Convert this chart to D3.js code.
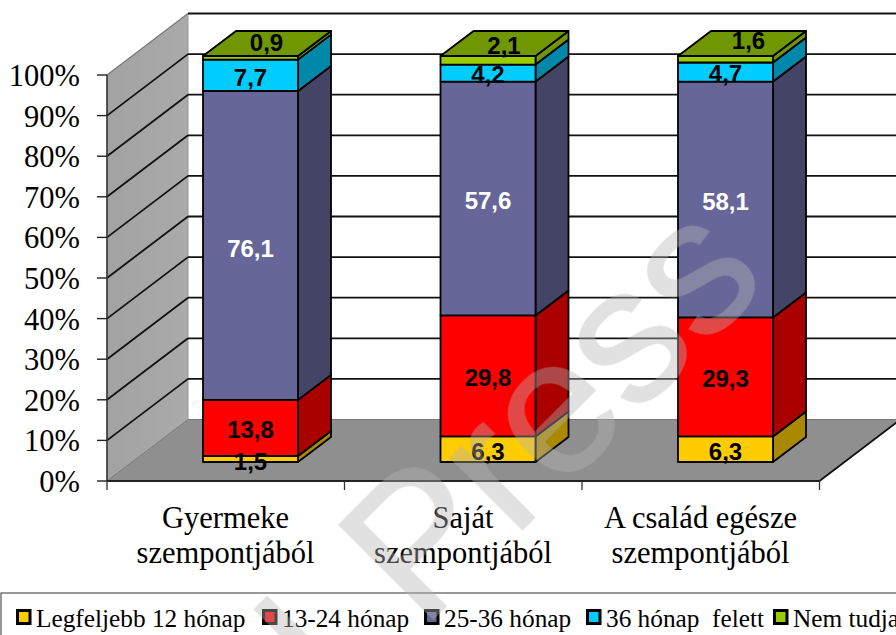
<!DOCTYPE html>
<html><head><meta charset="utf-8">
<script src="https://cdn.jsdelivr.net/npm/d3@7"></script>
<style>html,body{margin:0;padding:0;background:#fff;overflow:hidden}svg{display:block}</style>
</head><body><svg id="c" width="896" height="635"></svg>
<script>
const categories=[["Gyermeke","szempontjából"],["Saját","szempontjából"],["A család egésze","szempontjából"]];
const seriesNames=["Legfeljebb 12 hónap","13-24 hónap","25-36 hónap","36 hónap  felett","Nem tudja"];
const legfeljebb=[1.5,6.3,6.3];
const ho1324=[13.8,29.8,29.3];
const ho2536=[76.1,57.6,58.1];
const felett=[7.7,4.2,4.7];
const nemTudja=[0.9,2.1,1.6];
const tickValues=[0,10,20,30,40,50,60,70,80,90,100];
const frontColors=["#ffcc00","#ff0000","#666699","#00ccff","#99cc00"];
const sideColors=["#aa8800","#aa0000","#444466","#0088aa","#709600"];
const labelColors=["#000","#000","#fff","#000","#000"];
const labelDy=[[3,2,3.5,2,-15],[2,2,2,1,-15],[2,2,2,1,-19]];
const labelDx=[[0,0,0,0,16],[0,0,0,0,16],[0,0,0,0,23]];
const seriesValues=[legfeljebb,ho1324,ho2536,felett,nemTudja];

const svg=d3.select("#c");
const serif="'Liberation Serif','Times New Roman',serif", sans="'Liberation Sans',Arial,sans-serif";
const x=d3.scaleBand().domain(d3.range(categories.length)).range([107,819.5]);
const y=d3.scaleLinear().domain([0,100]).range([481,75]);
const D=[81,-61.5]; // chart depth
const barOffY=-19, barD=[33,-25], barW=95, barLeft=96;
const poly=(pts,fill,st="#000",sw=1.8)=>svg.append("polygon").attr("points",pts.map(p=>p.join(",")).join(" ")).attr("fill",fill).attr("stroke",st).attr("stroke-width",sw).attr("stroke-linejoin","round");
const line=(a,b,c="#111",w=1.8)=>svg.append("line").attr("x1",a[0]).attr("y1",a[1]).attr("x2",b[0]).attr("y2",b[1]).attr("stroke",c).attr("stroke-width",w);

const xL=x.range()[0], xR=x.range()[1];
// floor
poly([[xL,y(0)],[xR,y(0)],[xR+D[0],y(0)+D[1]],[xL+D[0],y(0)+D[1]]],"#8f8f8f","none",0);
// side wall
const grad=svg.append("defs").append("linearGradient").attr("id","wall").attr("x1",0).attr("x2",1).attr("y1",0).attr("y2",0);
grad.append("stop").attr("offset",0).attr("stop-color","#a2a2a2");
grad.append("stop").attr("offset",1).attr("stop-color","#aaaaaa");
poly([[xL,y(0)],[xL,y(100)],[xL+D[0],y(100)+D[1]],[xL+D[0],y(0)+D[1]]],"url(#wall)","none",0);
line([xL,y(100)],[xL+D[0],y(100)+D[1]],"#777",1.2);
line([xL,y(0)],[xL+D[0],y(0)+D[1]],"#777",1);
line([xL+D[0],y(0)+D[1]],[xL+D[0],y(100)+D[1]],"#999",1);
line([xL+D[0],y(0)+D[1]],[896,y(0)+D[1]],"#777",1);
// gridlines
tickValues.forEach(t=>{
  if(t>0){
    if(t<100) line([xL,y(t)],[xL+D[0],y(t)+D[1]]);
    line([xL+D[0],y(t)+D[1]],[896,y(t)+D[1]]);
  }
});
line([xR,y(0)],[xR+D[0],y(0)+D[1]],"#111",1.8);
// axes
line([xL,y(100)],[xL,y(0)],"#333",1.6);
line([xL,y(0)],[xR,y(0)],"#222",2);
const yTicks=svg.append("g").selectAll("g").data(tickValues).join("g");
yTicks.append("line").attr("x1",xL-10).attr("x2",xL).attr("y1",d=>y(d)).attr("y2",d=>y(d)).attr("stroke","#222").attr("stroke-width",1.4);
yTicks.append("text").attr("x",80).attr("y",d=>y(d)+11).attr("text-anchor","end").attr("font-family",serif).attr("font-size",30.5).attr("fill","#000").text(d=>d+"%");
d3.range(categories.length+1).forEach(i=>{
  const px=i<categories.length?x(i):xR;
  line([px,y(0)],[px,y(0)+9],"#333",1.3);
});
// bars
categories.forEach((c,i)=>{
  const X=x(i)+barLeft;
  let cum=0;
  const yb=v=>y(v)+barOffY;
  seriesValues.forEach((s,k)=>{
    const a=yb(cum),b=yb(cum+s[i]);
    poly([[X+barW,a],[X+barW+barD[0],a+barD[1]],[X+barW+barD[0],b+barD[1]],[X+barW,b]],sideColors[k]);
    poly([[X,a],[X+barW,a],[X+barW,b],[X,b]],frontColors[k]);
    cum+=s[i];
  });
  const t=yb(cum);
  poly([[X,t],[X+barW,t],[X+barW+barD[0],t+barD[1]],[X+barD[0],t+barD[1]]],sideColors[4]);
  cum=0;
  seriesValues.forEach((s,k)=>{
    const mid=yb(cum+s[i]/2);
    svg.append("text").attr("x",X+barW/2+labelDx[i][k]).attr("y",mid+8.5+labelDy[i][k]).attr("text-anchor","middle")
      .attr("font-family",sans).attr("font-weight","bold").attr("font-size",24).attr("fill",labelColors[k]).text(String(s[i]).replace(".",","));
    cum+=s[i];
  });
  c.forEach((l,j)=>svg.append("text").attr("x",x(i)+118.5).attr("y",528+j*35).attr("text-anchor","middle").attr("font-family",serif).attr("font-size",30.5).attr("fill","#000").text(l));
});
// legend
svg.append("rect").attr("x",1).attr("y",593).attr("width",1000).attr("height",60).attr("fill","#fff").attr("stroke","#555").attr("stroke-width",1.2);
const legX=[17.5,263.5,425.5,587.5,774.5];
seriesNames.forEach((n,k)=>{
  svg.append("rect").attr("x",legX[k]).attr("y",610.5).attr("width",12.5).attr("height",13).attr("fill",frontColors[k]).attr("stroke","#000").attr("stroke-width",3);
  svg.append("text").attr("x",legX[k]+18.5).attr("y",627).attr("font-family",serif).attr("font-size",25.3).attr("fill","#000").style("white-space","pre").text(n);
});
// watermark
const wm=svg.append("g").attr("opacity",0.4);
[["Press",422,630],["I",336,716]].forEach(([s,tx,ty])=>{
  wm.append("text").attr("transform",`translate(${tx},${ty}) rotate(-45)`).attr("font-family",sans).attr("font-size",193).attr("fill","#b4b4b4").attr("stroke","#b4b4b4").attr("stroke-width",1.5).text(s);
});
</script></body></html>
